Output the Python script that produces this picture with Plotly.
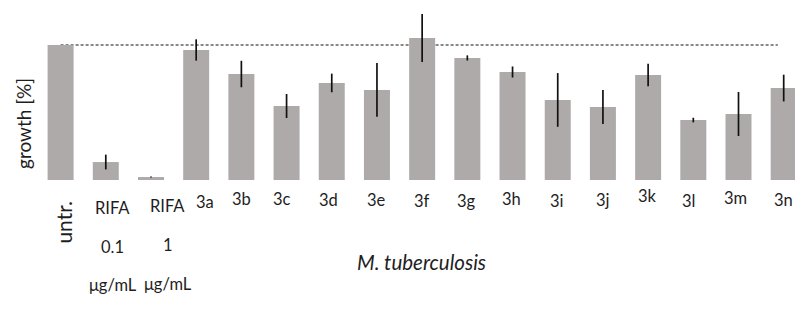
import plotly.graph_objects as go

# ---- data ----
categories = ["untr.", "RIFA 0.1 μg/mL", "RIFA 1 μg/mL", "3a", "3b", "3c", "3d", "3e",
              "3f", "3g", "3h", "3i", "3j", "3k", "3l", "3m", "3n"]
growth = [100, 13.3, 2.2, 96.3, 78.5, 54.8, 71.9, 66.7, 105.2, 90.4, 80.0,
          59.3, 54.1, 77.8, 44.4, 48.9, 68.1]
growth_err = [0, 5.5, 0.4, 7.9, 9.8, 8.9, 6.9, 19.9, 17.8, 1.9, 4.1,
              19.9, 12.6, 8.4, 1.7, 16.3, 9.9]
reference_level = 100
y_title = "growth [%]"
x_title = "M. tuberculosis"

# ---- layout constants ----
W, H = 795, 311
M_T, M_B, M_L, M_R = 0, 131, 38, 0
PLOT_H = H - M_T - M_B
FONT = "Lato, 'Open Sans', sans-serif"
TXT = "#1e1e1e"
BAR = "#aeaaa9"

def py(p):
    """pixel row -> paper y"""
    return 1 - (p - M_T) / PLOT_H

def px(p):
    return (p - M_L) / (W - M_L - M_R)

xs = list(range(len(categories)))

fig = go.Figure(go.Bar(
    x=xs, y=growth, width=0.575,
    marker=dict(color=BAR, line=dict(width=0)),
    error_y=dict(type="data", array=growth_err, visible=True,
                 color="#111111", thickness=1.7, width=0),
    hoverinfo="skip",
))

# dashed 100% reference line (under the bars)
fig.add_shape(type="line", xref="x", yref="y", x0=0, x1=15.87,
              y0=reference_level, y1=reference_level, layer="below",
              line=dict(color="#111111", width=1, dash="3px,2px"))

ann = []
# compound labels 3a..3n
lab_dx = [9, 0, -5, -3, 0, 0, -1, -1, -1, 0, -1, -5, -3, 0]
lab_y = [202, 199, 199, 199.5, 200, 201, 201, 199, 201, 200, 196, 201, 198, 200]
for i, cat in enumerate(categories[3:]):
    ann.append(dict(x=xs[i + 3], xref="x", xshift=lab_dx[i], y=py(lab_y[i]),
                    yref="paper", text=cat, showarrow=False,
                    font=dict(family=FONT, size=16.5, color=TXT),
                    xanchor="center", yanchor="middle"))

# untr. (rotated)
ann.append(dict(x=xs[0], xref="x", xshift=2, y=py(222), yref="paper",
                text=categories[0], textangle=-90, showarrow=False,
                font=dict(family=FONT, size=21, color=TXT),
                xanchor="center", yanchor="middle"))

# RIFA blocks
rifa_dx = [7, 17]
rifa_rows = [[208, 247, 285], [206, 245, 284]]
for k, cat in enumerate(categories[1:3]):
    parts = cat.split(" ")
    for j, t in enumerate(parts):
        ann.append(dict(x=xs[k + 1], xref="x", xshift=rifa_dx[k],
                        y=py(rifa_rows[k][j]), yref="paper", text=t,
                        showarrow=False,
                        font=dict(family=FONT, size=16.5, color=TXT),
                        xanchor="center", yanchor="middle"))

# axis titles
ann.append(dict(x=px(23), xref="paper", y=py(124), yref="paper", text=y_title,
                textangle=-90, showarrow=False,
                font=dict(family=FONT, size=19, color=TXT),
                xanchor="center", yanchor="middle"))
ann.append(dict(x=px(421), xref="paper", y=py(262), yref="paper",
                text="<i>" + x_title + "</i>", showarrow=False,
                font=dict(family=FONT, size=20.5, color=TXT),
                xanchor="center", yanchor="middle"))

fig.update_layout(
    width=W, height=H,
    margin=dict(t=M_T, b=M_B, l=M_L, r=M_R, pad=0),
    paper_bgcolor="white", plot_bgcolor="white",
    showlegend=False,
    annotations=ann,
    xaxis=dict(range=[-0.5, 16.25], showticklabels=False, showgrid=False,
               zeroline=False, showline=False, ticks="", fixedrange=True),
    yaxis=dict(range=[0, PLOT_H / 1.35], showticklabels=False, showgrid=False,
               zeroline=False, showline=False, ticks="", fixedrange=True),
)

fig.write_html("out.html", config={"displayModeBar": False},
               post_script="document.body.style.margin='0';"
                           "document.body.style.overflow='hidden';")
